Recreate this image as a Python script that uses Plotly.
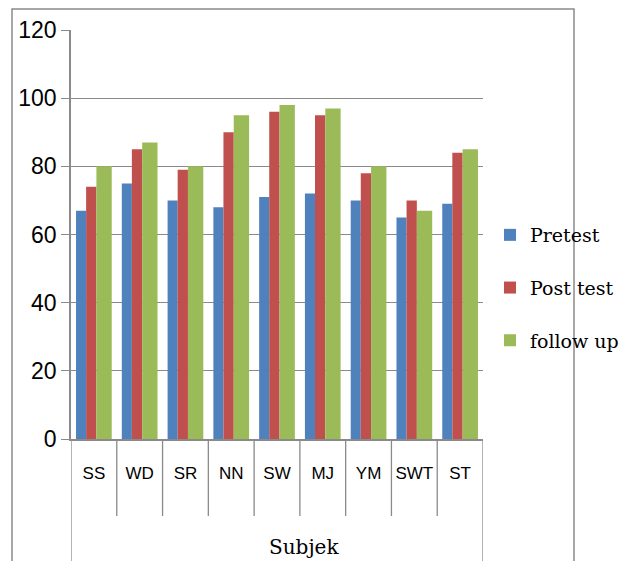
import plotly.graph_objects as go

categories = ["SS", "WD", "SR", "NN", "SW", "MJ", "YM", "SWT", "ST"]
pretest = [67, 75, 70, 68, 71, 72, 70, 65, 69]
post_test = [74, 85, 79, 90, 96, 95, 78, 70, 84]
follow_up = [80, 87, 80, 95, 98, 97, 80, 67, 85]
y_ticks = [0, 20, 40, 60, 80, 100, 120]

series = [
    ("Pretest", pretest, "#4F81BD", -0.39, 0.22),
    ("Post test", post_test, "#C0504D", -0.17, 0.225),
    ("follow up", follow_up, "#9BBB59", 0.055, 0.335),
]

xs = list(range(len(categories)))
fig = go.Figure()
for i, (name, vals, color, off, w) in enumerate(series):
    fig.add_trace(go.Bar(
        x=xs, y=vals, name=name, marker=dict(color=color, line=dict(width=0)),
        offset=off, width=w, legendgroup=f"g{i}",
    ))

S = 8  # page body margin offset
W, H = 627 - S, 569 - 2 * S
L, R, T, B = 71 - S, 483 - S, 30 - S, 439 - S
pw, ph = R - L, B - T

def px(xp):
    return (xp - S - L) / pw

def py(yp):
    return (B - (yp - S)) / ph

grey = "#8a8a8a"
shapes = []
shapes.append(dict(type="rect", xref="paper", yref="paper",
                   x0=px(12), x1=px(574), y0=py(620), y1=py(9),
                   line=dict(color=grey, width=1.5), layer="below"))
n = len(categories)
for k in range(n + 1):
    bottom = py(620) if k in (0, n) else py(516)
    shapes.append(dict(type="line", xref="x", yref="paper",
                       x0=k - 0.5, x1=k - 0.5, y0=0, y1=bottom,
                       line=dict(color=grey, width=1.3)))

fig.update_layout(
    width=W, height=H,
    margin=dict(l=L, r=W - R, t=T, b=H - B, pad=0, autoexpand=False),
    paper_bgcolor="white", plot_bgcolor="white",
    barmode="overlay",
    showlegend=True,
    legend=dict(x=px(490), y=py(216), xanchor="left", yanchor="top",
                font=dict(family="DejaVu Serif", size=19, color="black"),
                tracegroupgap=25, itemwidth=30, bgcolor="rgba(0,0,0,0)"),
    shapes=shapes,
    annotations=[dict(text="Subjek", xref="paper", yref="paper",
                      x=px(304), y=py(547), xanchor="center", yanchor="middle",
                      showarrow=False,
                      font=dict(family="DejaVu Serif", size=20, color="black"))],
    xaxis=dict(range=[-0.5, n - 0.5], tickmode="array", tickvals=xs, ticktext=categories,
               showgrid=False, showline=True, linecolor=grey, linewidth=1.5,
               ticks="", ticklabelstandoff=18, zeroline=False,
               tickfont=dict(family="Liberation Sans", size=17, color="black")),
    yaxis=dict(range=[0, 120], tickmode="array", tickvals=y_ticks,
               showgrid=True, gridcolor=grey, gridwidth=1.3,
               showline=True, linecolor=grey, linewidth=1.5,
               ticks="outside", ticklen=8, tickcolor=grey, tickwidth=1.3,
               zeroline=False,
               tickfont=dict(family="Liberation Sans", size=23, color="black")),
)

fig.write_html("out.html")
